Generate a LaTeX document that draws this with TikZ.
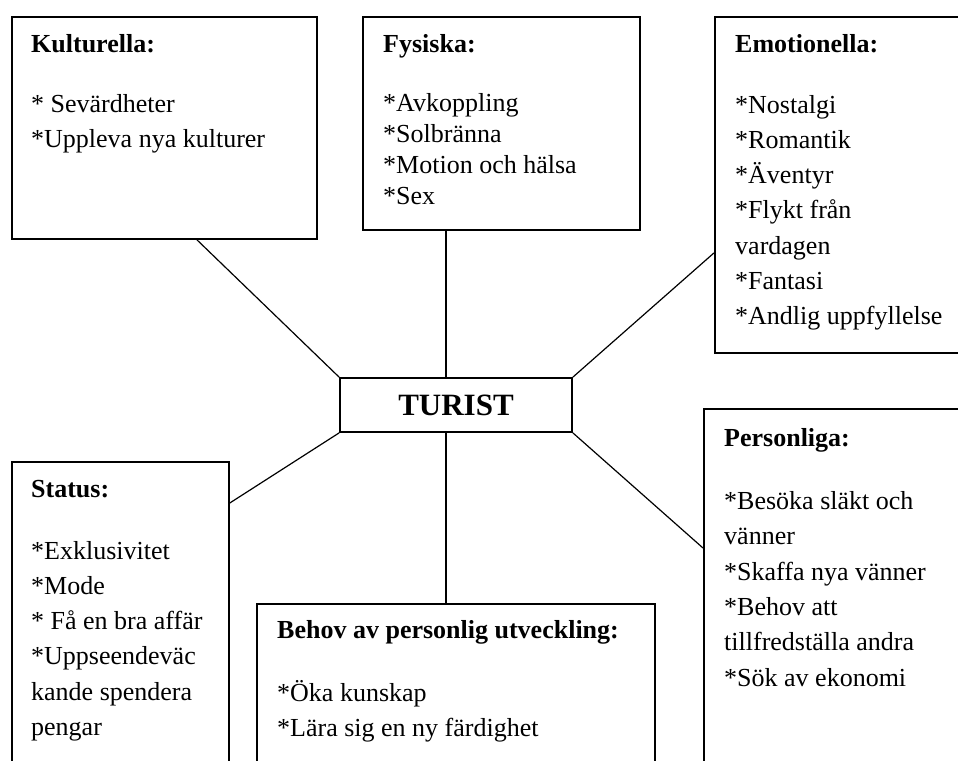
\documentclass[tikz,border=0pt]{standalone}
\usepackage{fontspec}
\setmainfont{Liberation Serif}
\usetikzlibrary{calc}

\tikzset{
  ruta/.style={draw, line width=1.8pt, inner sep=0pt, anchor=north west},
  txt/.style={anchor=base west, align=left, inner sep=0pt, font=\fontsize{26}{35.3}\selectfont},
  lank/.style={line width=1.2pt},
}

\begin{document}
\begin{tikzpicture}[x=1pt,y=-1pt]
\useasboundingbox (0,0) rectangle (958,760);
\clip (0,0) rectangle (958,760);

% rutorna
\node[ruta, minimum width=305pt, minimum height=222pt] (kult) at (11,16) {};
\node[ruta, minimum width=277pt, minimum height=213pt] (fys) at (362,16) {};
\node[ruta, minimum width=300pt, minimum height=336pt] (emo) at (714,16) {};
\node[ruta, minimum width=217pt, minimum height=330pt] (status) at (11,461) {};
\node[ruta, minimum width=398pt, minimum height=200pt] (behov) at (256,603) {};
\node[ruta, minimum width=300pt, minimum height=400pt] (pers) at (703,408) {};
\node[draw, line width=1.8pt, minimum width=232pt, minimum height=54pt,
  font=\fontsize{31}{31}\selectfont\bfseries] (turist) at (456,405) {TURIST};

% texterna (placerade vid sista radens baslinje)
\node[txt] (kulttxt) at (31,147.6) {\textbf{Kulturella:}\\[25pt]
  * Sevärdheter\\ *Uppleva nya kulturer};
\node[txt, font=\fontsize{26}{31}\selectfont] (fystxt) at (383,204) {\textbf{Fysiska:}\\[28pt]
  *Avkoppling\\ *Solbränna\\ *Motion och hälsa\\ *Sex};
\node[txt] (emotxt) at (735,324.8) {\textbf{Emotionella:}\\[25.7pt]
  *Nostalgi\\ *Romantik\\ *Äventyr\\ *Flykt från\\ vardagen\\ *Fantasi\\ *Andlig uppfyllelse};
\node[txt] (statustxt) at (31,735.5) {\textbf{Status:}\\[26.7pt]
  *Exklusivitet\\ *Mode\\ * Få en bra affär\\ *Uppseendeväc\\ kande spendera\\ pengar};
\node[txt] (behovtxt) at (277,736.3) {\textbf{Behov av personlig utveckling:}\\[27.7pt]
  *Öka kunskap\\ *Lära sig en ny färdighet};
\node[txt] (perstxt) at (724,686) {\textbf{Personliga:}\\[28pt]
  *Besöka släkt och\\ vänner\\ *Skaffa nya vänner\\ *Behov att\\ tillfredställa andra\\ *Sök av ekonomi};

% linjerna
\coordinate (t1) at ([xshift=-10pt]turist.north);
\coordinate (t2) at ([xshift=-10pt]turist.south);
\draw[lank] (turist.north west) -- ([xshift=32.5pt]kult.south);
\draw[lank] (t1) -- (t1 |- fys.south);
\draw[lank] (turist.north east) -- ([yshift=-68pt]emo.west);
\draw[lank] (turist.south west) -- ([yshift=-42pt]status.north east);
\draw[lank] (t2) -- (t2 |- behov.north);
\draw[lank] (turist.south east) -- ([yshift=-140pt]pers.north west);
\end{tikzpicture}
\end{document}
